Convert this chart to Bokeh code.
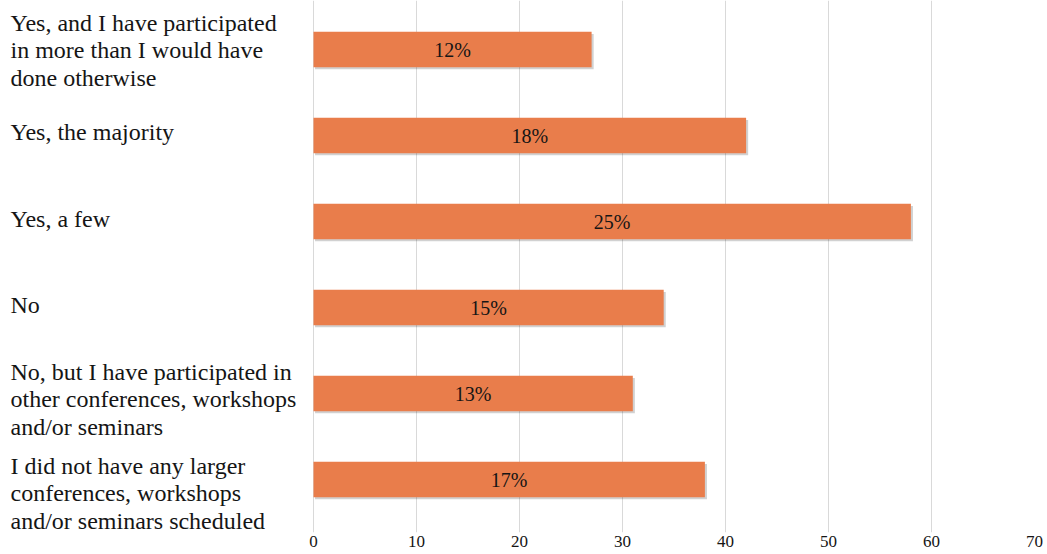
from bokeh.plotting import figure
from bokeh.models import ColumnDataSource, Range1d, FixedTicker
from bokeh.transform import dodge
from bokeh.core.properties import value
from bokeh.embed import file_html
from bokeh.resources import INLINE

categories = [
    "Yes, and I have participated\nin more than I would have\ndone otherwise",
    "Yes, the majority",
    " Yes, a few",
    "No",
    "No, but I have participated in\nother conferences, workshops\nand/or seminars",
    "I did not have any larger\nconferences, workshops\nand/or seminars scheduled",
]
counts = [27, 42, 58, 34, 31, 38]
pct_labels = ["12%", "18%", "25%", "15%", "13%", "17%"]
x_ticks = [0, 10, 20, 30, 40, 50, 60, 70]

# style: vertical nudge (px, downward) of each category label, as in the original
label_nudge = [1, -4, -3, -3, 6, 14]

FONT = "Liberation Serif"
BAR = "#E97D4B"
GRID = "#D9D9D9"
TXT = "#151515"

W, H = 1047, 554
RIGHT_BORDER = 13
BOTTOM_BORDER = 22
AXIS_LEFT_PX = 313          # pixel where value 0 sits
TOP_PAD = 6                 # px above first category band
X_MAX = 70
n = len(categories)

frame_w = W - RIGHT_BORDER
frame_h = H - BOTTOM_BORDER
px_per_unit = (frame_w - AXIS_LEFT_PX) / X_MAX
x_start = -AXIS_LEFT_PX / px_per_unit
band = 86                   # px per category band

src = ColumnDataSource(dict(cat=categories, v=counts, half=[c / 2 for c in counts],
                            lab=pct_labels, pos=[i + 0.5 for i in range(n)], dy=label_nudge))

p = figure(width=W, height=H,
           x_range=Range1d(x_start, X_MAX),
           y_range=Range1d((frame_h - TOP_PAD) / band, -TOP_PAD / band),
           output_backend="svg", toolbar_location=None,
           min_border_left=0, min_border_right=RIGHT_BORDER,
           min_border_top=0, min_border_bottom=BOTTOM_BORDER)
p.outline_line_color = None
p.yaxis.visible = False
p.ygrid.visible = False
p.xgrid.grid_line_color = GRID
p.xgrid.ticker = FixedTicker(ticks=x_ticks)
p.xaxis.ticker = FixedTicker(ticks=x_ticks)
p.xaxis.axis_line_color = None
p.xaxis.major_tick_line_color = None
p.xaxis.major_tick_out = 0
p.xaxis.major_tick_in = 0
p.xaxis.minor_tick_line_color = None
p.xaxis.major_label_standoff = 3
p.xaxis.major_label_text_font = FONT
p.xaxis.major_label_text_font_size = "17px"
p.xaxis.major_label_text_color = TXT

# soft shadow
p.hbar(y=dodge("pos", 0.025), left=0.15, right=dodge("v", 0.2), height=0.41,
       source=src, fill_color="#000000", fill_alpha=0.18, line_color=None)
p.hbar(y="pos", left=0, right="v", height=0.41, source=src, fill_color=BAR, line_color=None)
p.text(x="half", y="pos", text="lab", source=src, text_font=value(FONT), text_font_size="20px",
       text_color=TXT, text_align="center", text_baseline="middle")

# category labels, left aligned at the left edge
p.text(x=x_start, y="pos", text="cat", source=src, x_offset=10, y_offset="dy",
       text_font=value(FONT), text_font_size="24px", text_color=TXT,
       text_align="left", text_baseline="middle", text_line_height=1.06)

open("out.html", "w").write(file_html(p, INLINE))
